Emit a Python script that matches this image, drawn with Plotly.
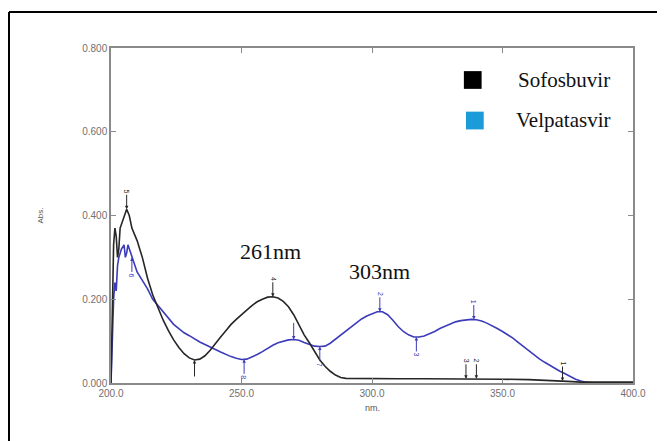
import numpy as np
import plotly.graph_objects as go

# ---- data ----
sof_nm = [200, 200.5, 201, 201.5, 202, 202.5, 203, 203.5, 204, 205, 206, 207, 208, 209, 210,
          212, 214, 216, 218, 220, 222, 224, 226, 228, 230, 232, 234, 236, 238, 240, 242, 244,
          246, 248, 250, 252, 254, 256, 258, 260, 262, 264, 266, 268, 270, 272, 274, 276, 278,
          280, 282, 284, 286, 288, 290, 300, 310, 320, 330, 340, 350, 360, 370, 375, 380, 390, 400]
sof_abs = [0.0, 0.20, 0.33, 0.37, 0.35, 0.30, 0.32, 0.37, 0.38, 0.40, 0.415, 0.40, 0.37, 0.355, 0.34,
           0.30, 0.25, 0.21, 0.18, 0.15, 0.125, 0.103, 0.085, 0.070, 0.060, 0.055, 0.057, 0.065,
           0.078, 0.095, 0.110, 0.125, 0.140, 0.152, 0.164, 0.174, 0.185, 0.194, 0.200, 0.205,
           0.206, 0.203, 0.195, 0.182, 0.163, 0.137, 0.115, 0.096, 0.075, 0.055, 0.040, 0.028,
           0.019, 0.013, 0.011, 0.010, 0.010, 0.010, 0.010, 0.010, 0.009, 0.008, 0.006, 0.004,
           0.002, 0.002, 0.002]

vel_nm = [200, 200.5, 201, 201.5, 202, 202.5, 203, 204, 205, 205.5, 206, 206.5, 207, 208, 209, 210,
          212, 214, 216, 218, 220, 222, 224, 226, 228, 230, 232, 234, 236, 238, 240, 242, 244,
          246, 248, 250, 252, 254, 256, 258, 260, 262, 264, 266, 268, 270, 272, 274, 276, 278,
          280, 282, 284, 286, 288, 290, 292, 294, 296, 298, 300, 302, 304, 306, 308, 310, 312,
          314, 316, 318, 320, 322, 324, 326, 328, 330, 332, 334, 336, 338, 340, 342, 344, 346,
          348, 350, 352, 354, 356, 358, 360, 362, 364, 366, 368, 370, 372, 374, 376, 378, 380,
          382, 385, 400]
vel_abs = [0.0, 0.10, 0.20, 0.24, 0.22, 0.28, 0.30, 0.32, 0.33, 0.30, 0.31, 0.33, 0.32, 0.30, 0.28, 0.265,
           0.245, 0.225, 0.200, 0.185, 0.170, 0.155, 0.140, 0.130, 0.120, 0.113, 0.105, 0.098,
           0.092, 0.085, 0.080, 0.074, 0.068, 0.063, 0.059, 0.056, 0.057, 0.062, 0.068, 0.075,
           0.083, 0.090, 0.096, 0.100, 0.103, 0.104, 0.102, 0.097, 0.092, 0.088, 0.087, 0.088,
           0.095, 0.105, 0.115, 0.125, 0.135, 0.145, 0.153, 0.160, 0.166, 0.170, 0.170, 0.163,
           0.150, 0.135, 0.123, 0.115, 0.110, 0.110, 0.112, 0.117, 0.123, 0.130, 0.136, 0.142,
           0.146, 0.149, 0.151, 0.152, 0.151, 0.148, 0.143, 0.137, 0.130, 0.123, 0.116, 0.107,
           0.097, 0.087, 0.077, 0.068, 0.058, 0.050, 0.042, 0.035, 0.028, 0.022, 0.015, 0.009,
           0.005, 0.002, 0.0, 0.0]

# peak-pick markers: (wavelength, label, direction)
sof_picks = [(206, "5", "down"), (232, "", "up"), (262, "4", "down"),
             (336, "3", "down"), (340, "2", "down"), (373, "1", "down")]
vel_picks = [(208, "6", "up"), (251, "8", "up"), (270, "", "down"), (280, "7", "up"),
             (303, "2", "down"), (317, "3", "up"), (339, "1", "down")]

peak_labels = [(261, 0.313, "261nm"), (303, 0.266, "303nm")]

x_ticks = [200, 250, 300, 350, 400]
y_ticks = [0.0, 0.2, 0.4, 0.6, 0.8]

BLACK = "#262626"
BLUE_LINE = "#3c3cba"
BLUE_LEG = "#1b9bd8"

fig = go.Figure()
fig.add_trace(go.Scatter(x=vel_nm, y=vel_abs, mode="lines", name="Velpatasvir",
                         line=dict(color=BLUE_LINE, width=1.6), showlegend=False))
fig.add_trace(go.Scatter(x=sof_nm, y=sof_abs, mode="lines", name="Sofosbuvir",
                         line=dict(color=BLACK, width=1.6), showlegend=False))

annotations = []
for picks, xs, ys, col in [(sof_picks, sof_nm, sof_abs, BLACK), (vel_picks, vel_nm, vel_abs, BLUE_LINE)]:
    for wl, lab, d in picks:
        yv = float(np.interp(wl, xs, ys))
        annotations.append(dict(
            x=wl, y=yv, xref="x", yref="y", text=lab, showarrow=True,
            arrowhead=2, arrowsize=0.7, arrowwidth=1, arrowcolor=col,
            ax=0, ay=-18 if d == "down" else 18, textangle=90,
            font=dict(family="Liberation Sans", size=7, color=col)))

for wl, yv, txt in peak_labels:
    annotations.append(dict(x=wl, y=yv, xref="x", yref="y", text=txt, showarrow=False,
                            xanchor="center", yanchor="middle",
                            font=dict(family="Liberation Serif", size=22, color="#111")))

# axis titles
annotations.append(dict(x=-0.136, y=0.5, xref="paper", yref="paper", text="Abs.",
                        textangle=-90, showarrow=False, xanchor="center", yanchor="middle",
                        font=dict(family="Liberation Sans", size=8, color="#555")))
annotations.append(dict(x=0.5, y=-0.0746, xref="paper", yref="paper", text="nm.",
                        showarrow=False, xanchor="center", yanchor="middle",
                        font=dict(family="Liberation Sans", size=9, color="#555")))

# legend text
annotations.append(dict(x=0.959, y=0.904, xref="paper", yref="paper", text="Sofosbuvir",
                        xanchor="right", yanchor="middle", showarrow=False,
                        font=dict(family="Liberation Serif", size=21, color="#111")))
annotations.append(dict(x=0.959, y=0.785, xref="paper", yref="paper", text="Velpatasvir",
                        xanchor="right", yanchor="middle", showarrow=False,
                        font=dict(family="Liberation Serif", size=21, color="#111")))

shapes = [
    # legend swatches
    dict(type="rect", xref="paper", yref="paper", x0=0.676, x1=0.71, y0=0.878, y1=0.931,
         fillcolor="black", line=dict(width=0)),
    dict(type="rect", xref="paper", yref="paper", x0=0.68, x1=0.714, y0=0.757, y1=0.81,
         fillcolor=BLUE_LEG, line=dict(width=0)),
    # outer frame (left and top edges)
    dict(type="line", xref="paper", yref="paper", x0=-0.1954, x1=-0.1954, y0=-0.3, y1=1.1075,
         line=dict(color="black", width=2)),
    dict(type="line", xref="paper", yref="paper", x0=-0.1954, x1=1.1, y0=1.1075, y1=1.1075,
         line=dict(color="black", width=2)),
]

axis_common = dict(showgrid=False, zeroline=False, showline=True, linecolor="#8a8a8a",
                   linewidth=1.5, mirror="ticks", ticks="inside", ticklen=5,
                   tickcolor="#8a8a8a",
                   tickfont=dict(family="Liberation Sans", size=10, color="#707070"))

# the page body adds an 8px offset, so the figure is 8px smaller and margins shifted
fig.update_layout(
    width=657, height=433,
    margin=dict(l=103, r=32, t=40, b=58),
    paper_bgcolor="white", plot_bgcolor="white",
    xaxis=dict(range=[200, 400], tickvals=x_ticks,
               ticktext=[f"{v:.1f}" for v in x_ticks], **axis_common),
    yaxis=dict(range=[0, 0.8], tickvals=y_ticks,
               ticktext=[f"{v:.3f}" for v in y_ticks], **axis_common),
    annotations=annotations, shapes=shapes, showlegend=False,
)

fig.write_html("out.html")
